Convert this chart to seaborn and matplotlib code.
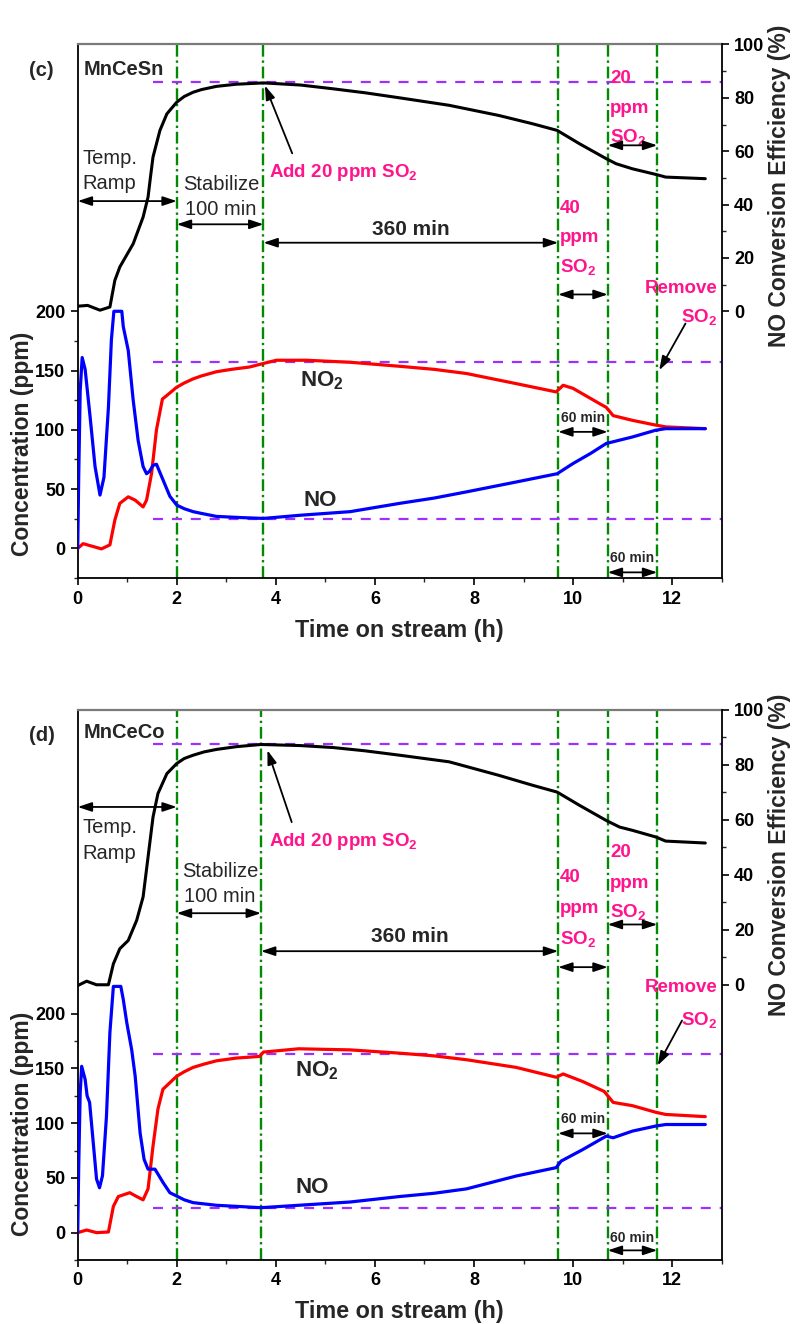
import numpy as np
import pandas as pd
import matplotlib
matplotlib.use("Agg")
import matplotlib.pyplot as plt
import seaborn as sns
from matplotlib.ticker import FixedLocator

# ---------------- data: MnCeSn (panel c) ----------------
sn_t_no = [0, 0.02, 0.05, 0.09, 0.15, 0.25, 0.35, 0.45, 0.53, 0.62, 0.68, 0.73, 0.89, 0.92,
           1.02, 1.12, 1.22, 1.32, 1.39, 1.45, 1.52, 1.59, 1.72, 1.86, 2.0, 2.15, 2.33, 2.5,
           2.8, 3.3, 3.75, 4.5, 5.5, 6.5, 7.2, 7.85, 8.85, 9.68, 10.0, 10.35, 10.67, 11.2,
           11.67, 11.87, 12.67]
sn_no = [0, 60, 133, 161, 151, 111, 69, 45, 60, 119, 176, 200, 200, 187,
         167, 125, 91, 69, 63, 65, 70, 71, 58, 44, 36.5, 33.5, 31, 29.5,
         27, 26, 25.3, 28, 31, 38, 42.5, 47.7, 56, 63, 71.6, 80, 88.5, 94,
         99.7, 101, 101]
sn_t_no2 = [0, 0.11, 0.32, 0.48, 0.65, 0.75, 0.85, 1.02, 1.16, 1.32, 1.39, 1.49, 1.59, 1.71,
            1.8, 1.9, 2.0, 2.15, 2.33, 2.5, 2.8, 3.1, 3.47, 3.75, 4.01, 4.62, 5.5, 6.5, 7.2,
            7.85, 8.85, 9.66, 9.8, 10.0, 10.54, 10.67, 10.81, 11.2, 11.67, 11.87, 12.67]
sn_no2 = [0, 4, 1.5, -0.4, 3, 24, 38, 43.5, 40.7, 35, 40.7, 63, 100, 126,
          129, 132.5, 136, 139.5, 143, 145.5, 149, 151, 153, 156, 158.7, 158.7, 157, 153.6, 151,
          147.5, 139, 132, 137.6, 135, 122, 119, 112, 108, 104, 102.5, 101]
sn_t_eff = [0, 0.2, 0.45, 0.65, 0.75, 0.85, 1.12, 1.32, 1.42, 1.47, 1.52, 1.66, 1.8, 2.0,
            2.15, 2.33, 2.5, 2.8, 3.2, 3.75, 4.5, 5.15, 5.8, 6.5, 7.5, 8.5, 9.18, 9.68,
            10.13, 10.67, 10.87, 11.2, 11.67, 11.87, 12.67]
sn_eff = [1.9, 2.2, 0.4, 1.6, 11.6, 16.6, 25.3, 35.3, 42.8, 50.5, 57.8, 67.8, 74, 78.4,
          80.5, 82.1, 83.1, 84.3, 85.1, 85.6, 84.8, 83.4, 81.9, 80, 77.2, 73.4, 70.3, 67.8,
          62.8, 57.2, 55.3, 53.4, 51.3, 50.3, 49.7]

# ---------------- data: MnCeCo (panel d) ----------------
co_t_no = [0, 0.02, 0.05, 0.08, 0.15, 0.19, 0.24, 0.32, 0.38, 0.44, 0.5, 0.58, 0.65, 0.72,
           0.87, 0.92, 0.99, 1.09, 1.16, 1.26, 1.34, 1.42, 1.56, 1.72, 1.86, 2.0, 2.15, 2.33,
           2.8, 3.7, 4.46, 5.5, 6.5, 7.2, 7.85, 8.85, 9.66, 9.76, 10.2, 10.67, 10.81, 11.2,
           11.67, 11.87, 12.67]
co_no = [0, 60, 128, 152, 140, 125, 119, 79, 49, 41, 52, 106, 183, 225,
         225, 213, 192, 167, 143, 91, 67, 58, 58, 46, 36.5, 33.4, 30, 27.4,
         25, 22.8, 25, 28, 33, 36, 40, 51.7, 59.4, 65.4, 76, 88.2, 86.7, 92.8,
         97.4, 98.8, 98.8]
co_t_no2 = [0, 0.18, 0.38, 0.62, 0.72, 0.82, 1.05, 1.19, 1.32, 1.42, 1.52, 1.62, 1.72, 1.86,
            2.0, 2.15, 2.33, 2.55, 2.8, 3.2, 3.67, 3.75, 4.46, 5.5, 6.5, 7.2, 7.85, 8.85, 9.66,
            9.8, 10.2, 10.63, 10.81, 11.2, 11.67, 11.87, 12.67]
co_no2 = [0, 2.4, 0, 0.6, 24, 33, 36.5, 33, 30, 40, 79, 113, 131, 137,
          143, 147, 151, 154, 157, 159.5, 161, 165, 168, 167, 164, 161.5, 158, 151, 142,
          145, 138, 129, 119, 116, 110, 108, 106]
co_t_eff = [0, 0.18, 0.38, 0.62, 0.72, 0.85, 1.02, 1.19, 1.32, 1.42, 1.52, 1.62, 1.8, 2.0,
            2.15, 2.33, 2.55, 2.8, 3.2, 3.7, 4.5, 5.15, 5.8, 6.5, 7.5, 8.5, 9.18, 9.68,
            10.13, 10.67, 10.94, 11.2, 11.67, 11.87, 12.67]
co_eff = [-0.3, 1.3, 0, 0, 7.6, 13.1, 16.1, 23.4, 31.9, 46.4, 60.9, 69.5, 76.7, 80.4,
          82.2, 83.4, 84.6, 85.5, 86.5, 87.3, 86.9, 86.2, 85, 83.4, 81, 76.1, 72.5, 70,
          65.2, 59.7, 57.3, 56.1, 53.7, 52.2, 51.5]

# event times (h) and reference levels
sn_events = [2.0, 3.75, 9.7, 10.7, 11.7]
co_events = [2.0, 3.7, 9.7, 10.7, 11.7]
sn_refs = {"eff": 85.9, "no2": 157, "no": 24.4}
co_refs = {"eff": 87.6, "no2": 162.8, "no": 22.8}

time_ticks = [0, 2, 4, 6, 8, 10, 12]
conc_ticks = [0, 50, 100, 150, 200]
eff_ticks = [0, 20, 40, 60, 80, 100]

# ---------------- style ----------------
sns.set_style("ticks")
plt.rcParams["font.family"] = ["Liberation Sans", "DejaVu Sans"]
plt.rcParams["font.weight"] = "bold"
plt.rcParams["mathtext.default"] = "regular"

PINK = "#FF148C"
GREEN = "#008A00"
PURPLE = "#9B30FF"
SO2 = "SO$_2$"


def harrow(a, x0, x1, y):
    a.annotate("", xy=(x1, y), xytext=(x0, y),
               arrowprops=dict(arrowstyle="<|-|>,head_length=0.6,head_width=0.2",
                               color="black", lw=1.3, shrinkA=0, shrinkB=0,
                               mutation_scale=14))


def parrow(a, xy_from, xy_to):
    a.annotate("", xy=xy_to, xytext=xy_from,
               arrowprops=dict(arrowstyle="-|>,head_length=0.6,head_width=0.2",
                               color="black", lw=1.3, shrinkA=0, shrinkB=0,
                               mutation_scale=14))


def draw_panel(ax, tag, name, t_no, no, t_no2, no2, t_eff, eff, events, refs,
               conc_top, lay):
    ax2 = ax.twinx()

    # vertical event markers and reference levels
    for ev in events:
        ax.axvline(ev, color=GREEN, lw=1.7, ls=(0, (5, 1.6, 1, 1.6)), zorder=1)
    ax.plot([1.52, 13], [refs["no2"]] * 2, color=PURPLE, lw=1.6, ls=(0, (4.5, 4)), zorder=1)
    ax.plot([1.52, 13], [refs["no"]] * 2, color=PURPLE, lw=1.6, ls=(0, (4.5, 4)), zorder=1)
    ax2.plot([1.52, 13], [refs["eff"]] * 2, color=PURPLE, lw=1.6, ls=(0, (4.5, 4)), zorder=1)

    # gas concentrations and conversion
    sns.lineplot(x=t_no2, y=no2, ax=ax, color="#FF0000", lw=2.3, legend=False, zorder=3)
    sns.lineplot(x=t_no, y=no, ax=ax, color="#0000FF", lw=2.3, legend=False, zorder=3)
    sns.lineplot(x=t_eff, y=eff, ax=ax2, color="black", lw=2.2, legend=False, zorder=3)

    ax.set_xlim(0, 13)
    ax.set_ylim(-25, conc_top)
    ax2.set_ylim(-100, 100)
    ax.set_xlabel("")
    ax.set_ylabel("")
    ax2.set_ylabel("")

    ax.set_xticks(time_ticks)
    ax.xaxis.set_minor_locator(FixedLocator([1, 3, 5, 7, 9, 11, 13]))
    ax.yaxis.set_major_locator(FixedLocator(conc_ticks))
    ax.yaxis.set_minor_locator(FixedLocator([-25, 25, 75, 125, 175]))
    ax2.yaxis.set_major_locator(FixedLocator(eff_ticks))
    ax2.yaxis.set_minor_locator(FixedLocator([10, 30, 50, 70, 90]))
    for a in (ax, ax2):
        a.tick_params(which="major", direction="out", length=5, width=1.2,
                      labelsize=13, pad=4, colors="black")
        a.tick_params(which="minor", direction="out", length=3, width=1.0)
    ax.tick_params(axis="y", which="both", right=False)
    ax.tick_params(axis="x", which="both", top=False)

    for side in ("left", "bottom"):
        ax.spines[side].set_linewidth(1.3)
        ax.spines[side].set_color("black")
    ax.spines["top"].set_color("#7a7a7a")
    ax.spines["top"].set_linewidth(1.6)
    ax.spines["right"].set_visible(False)
    ax2.spines["top"].set_visible(False)
    ax2.spines["left"].set_visible(False)
    ax2.spines["bottom"].set_visible(False)
    ax2.spines["right"].set_linewidth(1.3)
    ax2.spines["right"].set_color("black")

    # axis titles
    ax.text(0.5, lay["xlab_y"], "Time on stream (h)", transform=ax.transAxes,
            ha="center", va="center", fontsize=16.8)
    ax.text(-0.0857, lay["ylab_y"], "Concentration (ppm)", transform=ax.transAxes,
            ha="center", va="center", rotation=90, fontsize=16.5)
    ax.text(1.0906, 0.736, "NO Conversion Efficiency (%)", transform=ax.transAxes,
            ha="center", va="center", rotation=90, fontsize=16.5)

    ax.text(-0.056, lay["tag_y"], tag, transform=ax.transAxes, ha="center",
            va="center", fontsize=14.5)
    ax2.text(0.0085, lay["name_y"], name, transform=ax.transAxes, ha="left",
             va="center", fontsize=14.5)

    e0, e1, e2, e3, e4 = events
    # temperature ramp / stabilize / exposure periods (conversion scale)
    harrow(ax2, 0, e0, lay["ramp_arrow"])
    ax2.text(0.1, lay["ramp_text"][0], "Temp.", ha="left", va="center",
             fontsize=14.5, fontweight="normal")
    ax2.text(0.1, lay["ramp_text"][1], "Ramp", ha="left", va="center",
             fontsize=14.5, fontweight="normal")
    harrow(ax2, e0, e1, lay["stab_arrow"])
    ax2.text(lay["stab_x"], lay["stab_text"][0], "Stabilize", ha="center", va="center",
             fontsize=14.5, fontweight="normal")
    ax2.text(lay["stab_x"], lay["stab_text"][1], "100 min", ha="center", va="center",
             fontsize=14.5, fontweight="normal")
    harrow(ax2, e1, e2, lay["long_arrow"])
    ax2.text((e1 + e2) / 2, lay["long_text"], "360 min", ha="center", va="center",
             fontsize=15)

    ax2.text(3.86, lay["add_text"], "Add 20 ppm " + SO2, ha="left", va="center",
             fontsize=13.5, color=PINK)
    parrow(ax2, lay["add_from"], lay["add_to"])

    for yy, s in zip(lay["p40_text"], ["40", "ppm", SO2]):
        ax2.text(9.74, yy, s, ha="left", va="center", fontsize=13.5, color=PINK)
    harrow(ax2, e2, e3, lay["p40_arrow"])
    for yy, s in zip(lay["p20_text"], ["20", "ppm", SO2]):
        ax2.text(10.75, yy, s, ha="left", va="center", fontsize=13.5, color=PINK)
    harrow(ax2, e3, e4, lay["p20_arrow"])

    ax2.text(12.91, lay["remove_text"], "Remove", ha="right", va="center",
             fontsize=13.5, color=PINK)
    ax2.text(12.55, lay["remove_so2"], SO2, ha="center", va="center",
             fontsize=13.5, color=PINK)
    parrow(ax2, lay["remove_from"], lay["remove_to"])

    # species labels and 60-min periods (concentration scale)
    ax.text(lay["no2_lab"][0], lay["no2_lab"][1], "NO$_2$", ha="center", va="center",
            fontsize=16)
    ax.text(lay["no_lab"][0], lay["no_lab"][1], "NO", ha="center", va="center",
            fontsize=16)
    ax.text((e2 + e3) / 2, lay["m60a"][0], "60 min", ha="center", va="center", fontsize=10)
    harrow(ax, e2, e3, lay["m60a"][1])
    ax.text((e3 + e4) / 2, lay["m60b"][0], "60 min", ha="center", va="center", fontsize=10)
    harrow(ax, e3, e4, lay["m60b"][1])
    return ax2


fig = plt.figure(figsize=(7.93, 13.24), dpi=100)
ax_c = fig.add_axes([0.098, 0.5634, 0.812, 0.4030])
ax_d = fig.add_axes([0.098, 0.04834, 0.812, 0.41576])

lay_c = dict(xlab_y=-0.0974, ylab_y=0.251, tag_y=0.951, name_y=0.953,
             ramp_arrow=41.3, ramp_text=(57.4, 48.0), stab_x=2.89,
             stab_text=(47.6, 38.2), stab_arrow=32.6, long_arrow=25.7, long_text=30.7,
             add_text=52.2, add_from=(4.33, 59.2), add_to=(3.78, 84.6),
             p40_text=(38.7, 27.5, 16.6), p40_arrow=6.3,
             p20_text=(87.3, 76.0, 65.3), p20_arrow=62.2,
             remove_text=8.7, remove_so2=-2.1, remove_from=(12.27, -4.6),
             remove_to=(11.74, -22.1),
             no2_lab=(4.93, 141.8), no_lab=(4.9, 40.7),
             m60a=(110, 98.3), m60b=(-8.4, -20.2))
lay_d = dict(xlab_y=-0.094, ylab_y=0.247, tag_y=0.953, name_y=0.958,
             ramp_arrow=64.6, ramp_text=(57.1, 47.6), stab_x=2.87,
             stab_text=(41.3, 32.2), stab_arrow=26.0, long_arrow=12.2, long_text=17.7,
             add_text=51.9, add_from=(4.32, 59.1), add_to=(3.83, 85.2),
             p40_text=(38.8, 27.6, 16.7), p40_arrow=6.4,
             p20_text=(48.2, 36.9, 26.4), p20_arrow=21.9,
             remove_text=-1.1, remove_so2=-12.7, remove_from=(12.2, -13.0),
             remove_to=(11.71, -29.3),
             no2_lab=(4.82, 147.6), no_lab=(4.73, 41.1),
             m60a=(103.5, 90.7), m60b=(-4.6, -16.2))

draw_panel(ax_c, "(c)", "MnCeSn", sn_t_no, sn_no, sn_t_no2, sn_no2, sn_t_eff, sn_eff,
           sn_events, sn_refs, 425, lay_c)
draw_panel(ax_d, "(d)", "MnCeCo", co_t_no, co_no, co_t_no2, co_no2, co_t_eff, co_eff,
           co_events, co_refs, 478, lay_d)

fig.savefig("out.png", dpi=100)
